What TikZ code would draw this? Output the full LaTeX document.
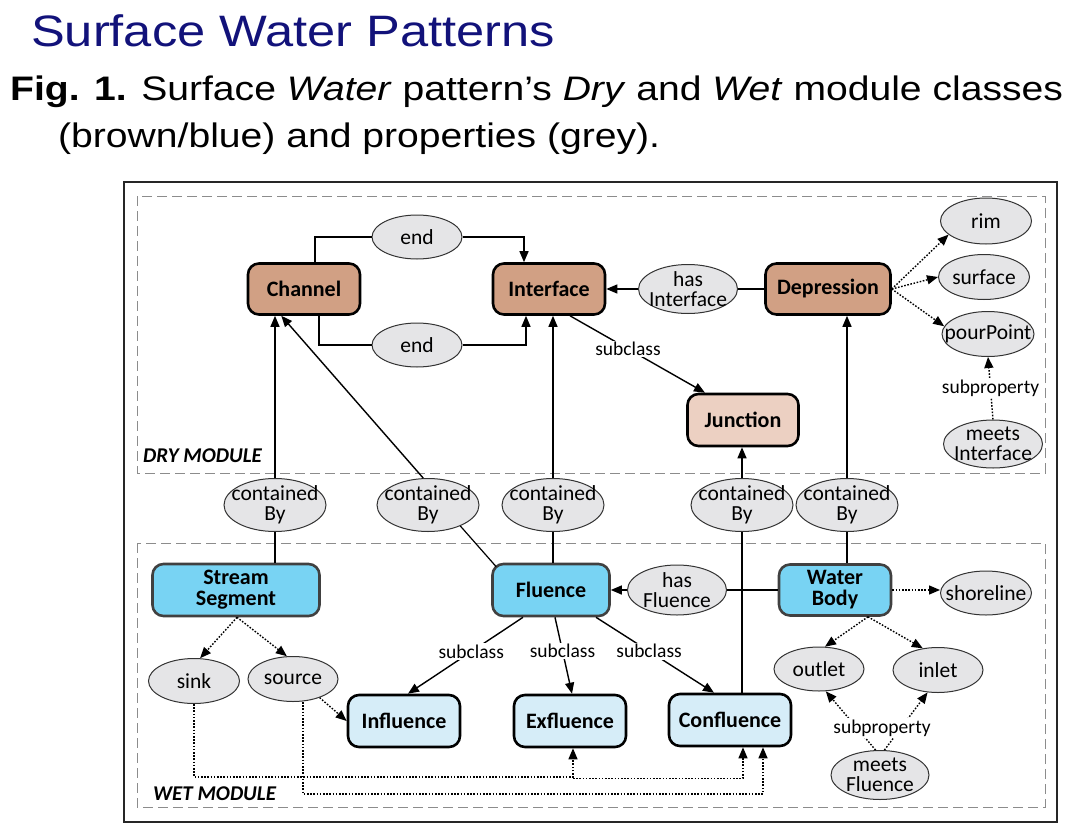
\documentclass[tikz,border=0pt]{standalone}
\usepackage{fontspec}
\setmainfont{Carlito}
\newfontfamily\slidefont[FakeStretch=1.15]{Liberation Sans}
\usetikzlibrary{arrows.meta, positioning, shapes.geometric, calc}
\definecolor{drybrown}{RGB}{209,160,132}
\definecolor{drylight}{RGB}{236,208,194}
\definecolor{wetblue}{RGB}{120,211,243}
\definecolor{wetlight}{RGB}{214,237,248}
\definecolor{propgrey}{RGB}{229,229,231}
\definecolor{titleblue}{RGB}{18,18,122}

\begin{document}
\begin{tikzpicture}[x=1pt, y=-1pt,
  cls/.style={rectangle, rounded corners=11pt, draw=black, line width=2.6pt, inner sep=0pt,
    align=center, minimum height=51pt, font=\fontsize{22}{21}\selectfont\bfseries},
  dry/.style={cls, fill=drybrown},
  drysub/.style={cls, fill=drylight},
  wet/.style={cls, fill=wetblue, draw=black!75},
  wetsub/.style={cls, fill=wetlight},
  prop/.style={ellipse, draw=black!80, line width=1pt, fill=propgrey, inner xsep=-15pt,
    inner ysep=-8pt, align=center, font=\fontsize{21.5}{19.5}\selectfont},
  lbl/.style={fill=white, inner sep=1.5pt, font=\fontsize{19.5}{19.5}\selectfont},
  arr/.style={-{Triangle[length=11pt, width=9pt]}, line width=1.4pt},
  dotarr/.style={arr, dash pattern=on 1.6pt off 1.6pt},
  module/.style={draw=black!45, line width=1pt, dash pattern=on 10pt off 5pt}
]
  \useasboundingbox (0,0) rectangle (1066,830);

  % Title and caption
  \node[anchor=base west, inner sep=0pt, text=titleblue, font=\slidefont\fontsize{44}{44}\selectfont]
    (title) at (31,46) {Surface Water Patterns};
  \node[anchor=base west, inner sep=0pt, font=\slidefont\fontsize{34}{34}\selectfont]
    (cap1) at (10,100) {\textbf{Fig. 1.} Surface \textit{Water} pattern’s \textit{Dry} and \textit{Wet} module classes};
  \node[anchor=base west, inner sep=0pt, font=\slidefont\fontsize{34}{34}\selectfont]
    (cap2) at (58,147) {(brown/blue) and properties (grey).};

  % Frame and module boxes
  \draw[line width=1.5pt, black!85] (124,182) rectangle (1057,822);
  \draw[module] (137,196) rectangle (1045,473);
  \draw[module] (137,543) rectangle (1045,807);
  \node[anchor=base west, inner sep=0pt, font=\fontsize{21}{21}\selectfont\bfseries\itshape]
    (drylbl) at (143,462) {DRY MODULE};
  \node[anchor=base west, inner sep=0pt, font=\fontsize{21}{21}\selectfont\bfseries\itshape]
    (wetlbl) at (153,800) {WET MODULE};

  % Dry module classes
  \node[dry, minimum width=112pt] (chan) at (304,289) {Channel};
  \node[dry, minimum width=112pt] (iface) at (549,289) {Interface};
  \node[dry, minimum width=125pt] (dep) at (828,289) {Depression};
  \node[drysub, minimum width=111pt, minimum height=52pt] (junc) at (743,420) {Junction};

  % Dry module properties
  \node[prop, minimum width=90pt, minimum height=44pt] (endtop) at (417,237) {end};
  \node[prop, minimum width=90pt, minimum height=44pt] (endbot) at (417,345) {end};
  \node[prop, minimum width=99pt, minimum height=49pt] (hasif) at (688,289) {has\\Interface};
  \node[prop, minimum width=91pt, minimum height=46pt] (rim) at (986,221) {rim};
  \node[prop, minimum width=91pt, minimum height=45pt] (surf) at (984,277) {surface};
  \node[prop, minimum width=92pt, minimum height=45pt] (pp) at (988,334) {pourPoint};
  \node[prop, minimum width=99pt, minimum height=48pt] (mi) at (993,444) {meets\\Interface};

  % containedBy row
  \node[prop, minimum width=102pt, minimum height=53pt] (cb1) at (275,505) {contained\\By};
  \node[prop, minimum width=102pt, minimum height=53pt] (cb2) at (428,505) {contained\\By};
  \node[prop, minimum width=102pt, minimum height=53pt] (cb3) at (553,505) {contained\\By};
  \node[prop, minimum width=102pt, minimum height=53pt] (cb4) at (742,505) {contained\\By};
  \node[prop, minimum width=102pt, minimum height=53pt] (cb5) at (847,505) {contained\\By};

  % Wet module classes
  \node[wet, minimum width=167pt, minimum height=52pt] (ss) at (236,590) {Stream\\Segment};
  \node[wet, minimum width=117pt, minimum height=52pt] (flu) at (551,590) {Fluence};
  \node[wet, minimum width=112pt] (wb) at (835,590) {Water\\Body};
  \node[wetsub, minimum width=112pt, minimum height=52pt] (infl) at (404,721) {Influence};
  \node[wetsub, minimum width=112pt, minimum height=52pt] (exfl) at (570,721) {Exfluence};
  \node[wetsub, minimum width=122pt, minimum height=52pt] (conf) at (730,720) {Confluence};

  % Wet module properties
  \node[prop, minimum width=99pt, minimum height=50pt] (hasfl) at (677,590) {has\\Fluence};
  \node[prop, minimum width=91pt, minimum height=44pt] (shore) at (986,593) {shoreline};
  \node[prop, minimum width=91pt, minimum height=45pt] (sink) at (194,681) {sink};
  \node[prop, minimum width=90pt, minimum height=45pt] (source) at (293,679) {source};
  \node[prop, minimum width=90pt, minimum height=44pt] (outlet) at (819,669) {outlet};
  \node[prop, minimum width=90pt, minimum height=45pt] (inlet) at (938,670) {inlet};
  \node[prop, minimum width=98pt, minimum height=49pt] (mf) at (880,775) {meets\\Fluence};

  % Channel end -> Interface
  \draw[line width=1.2pt] ($(chan.north)+(11,0)$) |- (endtop.west);
  \draw[arr] (endtop.east) -| ($(iface.north)+(-25,0)$);
  \draw[line width=1.2pt] ($(chan.south)+(15,0)$) |- (endbot.west);
  \draw[arr] (endbot.east) -| ($(iface.south)+(-23,0)$);

  % Depression hasInterface, subclass Junction
  \draw[line width=1.2pt] (dep.west) -- (hasif.east);
  \draw[arr] (hasif.west) -- (iface.east);
  \draw[arr] ($(iface.south)+(21,0)$) -- node[lbl, pos=0.43] (sub0) {subclass} ($(junc.north)+(-38,0)$);

  % Depression properties
  \draw[dotarr] (dep.east) -- (rim.200);
  \draw[dotarr] (dep.east) -- (surf.west);
  \draw[dotarr] (dep.east) -- (pp.170);
  \draw[dotarr] (mi.north) -- node[lbl] (subp1) {subproperty} (pp.south);

  % containedBy links
  \draw[line width=1.2pt] (ss.north -| cb1) -- (cb1.south);
  \draw[arr] (cb1.north) -- (chan.south -| cb1);
  \draw[line width=1.2pt] ($(flu.north west)+(5,4)$) -- (cb2.-33);
  \draw[arr] (cb2.100) -- ($(chan.south east)+(-80,0)$);
  \draw[line width=1.2pt] (flu.north -| cb3) -- (cb3.south);
  \draw[arr] (cb3.north) -- (iface.south -| cb3);
  \draw[line width=1.2pt] (conf.north -| cb4) -- (cb4.south);
  \draw[arr] (cb4.north) -- (junc.south -| cb4);
  \draw[line width=1.2pt] (wb.north -| cb5) -- (cb5.south);
  \draw[arr] (cb5.north) -- (dep.south -| cb5);

  % Water Body hasFluence, shoreline, outlet, inlet
  \draw[line width=1.2pt] (wb.west) -- (hasfl.east);
  \draw[arr] (hasfl.west) -- (flu.east);
  \draw[dotarr] (wb.east) -- (wb.east -| shore.west);
  \draw[dotarr] ($(wb.south)+(33,0)$) -- (outlet.75);
  \draw[dotarr] ($(wb.south)+(33,0)$) -- (inlet.125);
  \draw[dotarr] (mf.100) -- (outlet.-73);
  \draw[dotarr] (mf.80) -- (inlet.-115);
  \node[lbl] (subp2) at (882,728) {subproperty};

  % Fluence subclasses
  \draw[arr] ($(flu.south)+(-28,0)$) -- node[lbl, pos=0.45] (sub1) {subclass} ($(infl.north)+(4,0)$);
  \draw[arr] ($(flu.south)+(4,0)$) -- node[lbl, pos=0.44] (sub2) {subclass} ($(exfl.north)+(2,0)$);
  \draw[arr] ($(flu.south)+(45,0)$) -- node[lbl, pos=0.45] (sub3) {subclass} ($(conf.north)+(-16,0)$);

  % Stream Segment sink / source
  \draw[dotarr] ($(ss.south)+(1,0)$) -- (sink.75);
  \draw[dotarr] ($(ss.south)+(1,0)$) -- (source.105);
  \draw[dotarr] (source.-35) -- (infl.west);
  \draw[dotarr] (sink.south) -- ++(0,73) -| ($(exfl.south)+(3,0)$);
  \draw[dotarr] ($(exfl.south)+(3,30)$) -| ($(conf.south)+(13,0)$);
  \draw[dotarr] ($(source.south)+(10,0)$) -- ++(0,92) -| ($(conf.south)+(33,0)$);
\end{tikzpicture}
\end{document}
